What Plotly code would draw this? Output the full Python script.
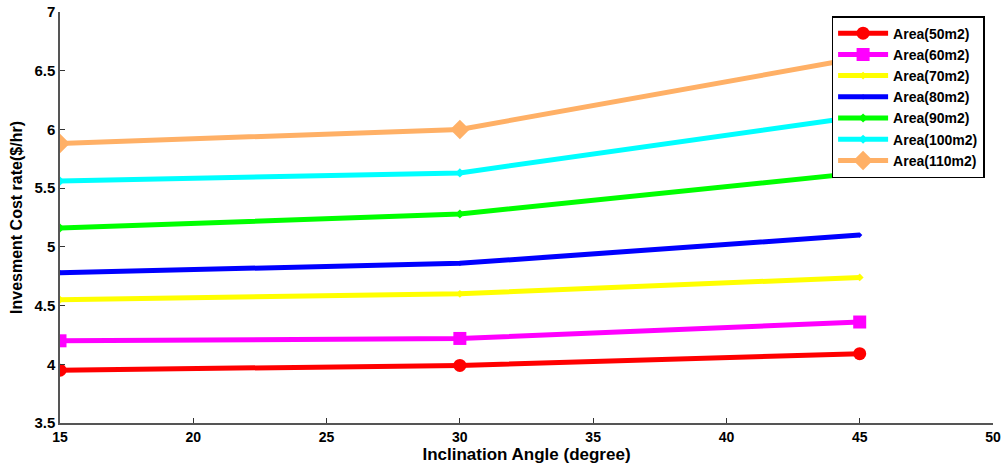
import plotly.graph_objects as go

angles = [15, 30, 45]
series_names = ["Area(50m2)", "Area(60m2)", "Area(70m2)", "Area(80m2)",
                "Area(90m2)", "Area(100m2)", "Area(110m2)"]
area50 = [3.95, 3.99, 4.09]
area60 = [4.20, 4.22, 4.36]
area70 = [4.55, 4.60, 4.74]
area80 = [4.78, 4.86, 5.10]
area90 = [5.16, 5.28, 5.63]
area100 = [5.56, 5.63, 6.11]
area110 = [5.88, 6.00, 6.61]
series_values = [area50, area60, area70, area80, area90, area100, area110]

colors = ["#ff0000", "#ff00ff", "#ffff00", "#0000ff", "#00ff00", "#00ffff", "#ffb066"]
symbols = ["circle", "square", "diamond", "diamond", "diamond", "diamond", "diamond"]
sizes = [13, 13, 6, 4, 7, 7, 15]

fig = go.Figure()
for name, vals, c, s, sz in zip(series_names, series_values, colors, symbols, sizes):
    fig.add_trace(go.Scatter(
        x=angles, y=vals, name=name, mode="lines+markers",
        line=dict(color=c, width=5),
        marker=dict(symbol=s, size=sz, color=c, line=dict(width=0)),
    ))

font_family = "Liberation Sans, Arial, sans-serif"
fig.update_layout(
    width=1003, height=470,
    margin=dict(l=60, r=10, t=12, b=47, autoexpand=False),
    paper_bgcolor="white", plot_bgcolor="white",
    font=dict(family=font_family, color="black"),
    showlegend=True,
    legend=dict(
        x=0.827, y=0.99, xanchor="left", yanchor="top",
        bgcolor="white", bordercolor="black", borderwidth=1.5,
        font=dict(size=14, weight="bold", family=font_family),
        tracegroupgap=0, itemwidth=50,
    ),
    xaxis=dict(
        range=[15, 50], dtick=5, tick0=15, automargin=False,
        ticks="inside", ticklen=5, tickcolor="#333",
        showline=True, linecolor="#555", linewidth=1.5, mirror=False,
        showgrid=False, zeroline=False,
        tickfont=dict(size=14, weight="bold"),
        title=dict(text="Inclination Angle (degree)", font=dict(size=17, weight="bold"), standoff=5),
    ),
    yaxis=dict(
        range=[3.5, 7], dtick=0.5, tick0=3.5, automargin=False,
        ticks="inside", ticklen=5, tickcolor="#333",
        showline=True, linecolor="#555", linewidth=1.5, mirror=False,
        showgrid=False, zeroline=False,
        tickfont=dict(size=15, weight="bold"),
        title=dict(text="Invesment Cost rate($/hr)", font=dict(size=16, weight="bold"), standoff=8),
    ),
)

fig.write_html("out.html", config={"displayModeBar": False},
               post_script="document.body.style.margin='0';")
